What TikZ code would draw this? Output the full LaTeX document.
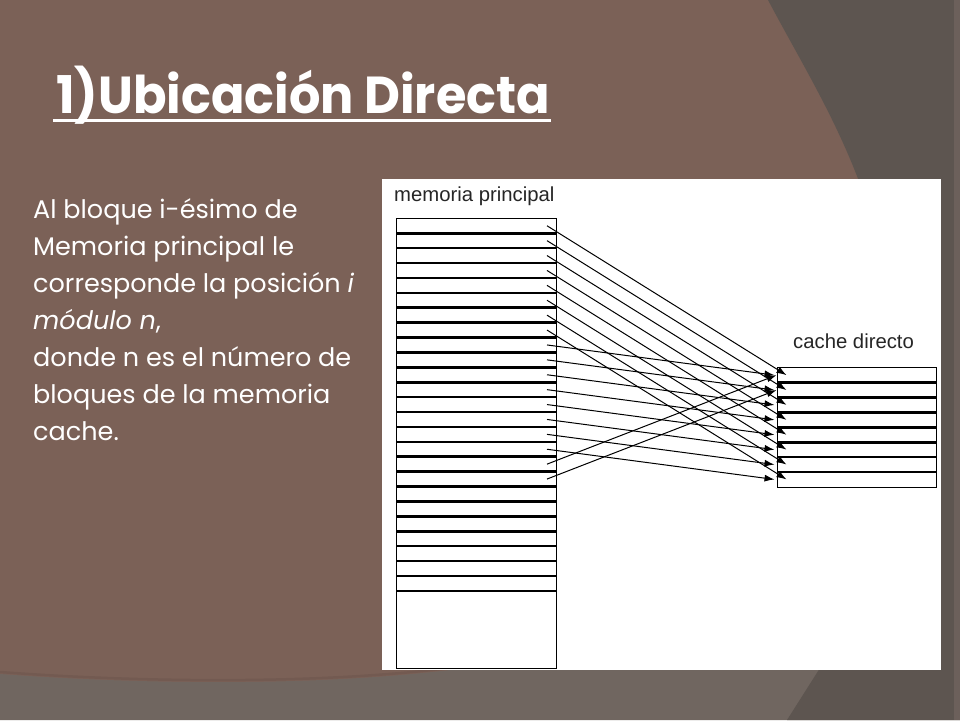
\documentclass[tikz,border=0pt]{standalone}
\usepackage{fontspec}
\setmainfont{Poppins}
\newfontfamily\labelfont{Liberation Sans}
\usetikzlibrary{arrows.meta}
\definecolor{slidebrown}{RGB}{123,97,87}
\definecolor{slidedark}{RGB}{93,85,80}
\definecolor{slidegray}{RGB}{112,102,96}
\definecolor{slideedge}{RGB}{108,96,91}
\definecolor{slideshade}{RGB}{110,86,77}

\tikzset{
  memrow/.style={draw, line width=0.7pt, minimum width=160pt, minimum height=14.9pt, inner sep=0pt, outer sep=0pt},
  cacherow/.style={draw, line width=0.7pt, minimum width=159.2pt, minimum height=14.9pt, inner sep=0pt, outer sep=0pt},
  rowline/.style={line width=2.6pt},
  maparrow/.style={line width=1pt, -{Latex[length=10pt,width=7pt]}},
  caption/.style={font=\labelfont\fontsize{20.3}{24}\selectfont, text=black!85, inner sep=0pt, anchor=base west},
  bodytext/.style={font=\fontsize{25.5}{30}\selectfont, text=white, inner sep=0pt, anchor=base west},
  titletext/.style={font=\bfseries\fontsize{52}{60}\selectfont, text=white, inner sep=0pt, anchor=base west},
}

\begin{document}
\begin{tikzpicture}[x=1pt, y=-1pt]
		\useasboundingbox (0,0) rectangle (960,720);
		% slide background
		\fill[slidebrown] (0,0) rectangle (960,720);
		\fill[slidegray] (0,674) .. controls (120,683) and (300,688) .. (450,670) -- (960,660) -- (960,720) -- (0,720) -- cycle;
		\draw[slideshade, line width=2.5pt, opacity=0.6] (0,672) .. controls (120,681) and (300,686) .. (450,668);
		\fill[slidedark] (768,0) .. controls (805,70) and (850,140) .. (875,230) -- (820,668) -- (787,720) -- (960,720) -- (960,0) -- cycle;
		\fill[slideedge] (954,0) rectangle (960,720);
		% title
		\node[titletext] (title) at (56,113) {\scalebox{0.95}[1]{1)Ubicación Directa}};
		\draw[white, line width=3pt] ([xshift=-3pt, yshift=-7pt]title.base west) -- ([xshift=1pt, yshift=-7pt]title.base east);
		% text on the left
		\foreach \t [count=\k] in {{Al bloque i-ésimo de},{Memoria principal le},{corresponde la posición \textit{i}},{\textit{módulo n},},{donde n es el número de},{bloques de la memoria},{cache.}}
			\node[bodytext] (d\k) at (33, {218+37*(\k-1)}) {\t};
		% picture of the mapping
		\fill[white] (382,179) rectangle (941,670);
		\node[caption] (mlabel) at (394,201) {memoria principal};
		\node[caption] (clabel) at (793,348) {cache directo};
		\foreach \i in {1,...,25}
			\node[memrow] (m\i) at (476, {218.3+14.9*(\i-0.5)}) {};
		\node[memrow, minimum height=77.2pt] (mrest) at (476, 629.4) {};
		\foreach \i in {1,...,25}
			\draw[rowline] (m\i.south west) -- (m\i.south east);
		\foreach \j in {1,...,8}
			\node[cacherow] (c\j) at (857.1, {367.7+14.9*(\j-0.5)}) {};
		\foreach \j in {1,...,7}
			\draw[rowline] (c\j.south west) -- (c\j.south east);
		% block i goes to line i mod 8
		\foreach \i in {1,...,18}{
			\pgfmathtruncatemacro{\j}{mod(\i-1,8)+1}
			\pgfmathsetmacro{\tipx}{ifthenelse(\i<9,9,ifthenelse(\i<17,-3,-1))}
			\draw[maparrow] ([xshift=-9pt]m\i.east) -- ([xshift=\tipx pt]c\j.west);
		}
\end{tikzpicture}
\end{document}
